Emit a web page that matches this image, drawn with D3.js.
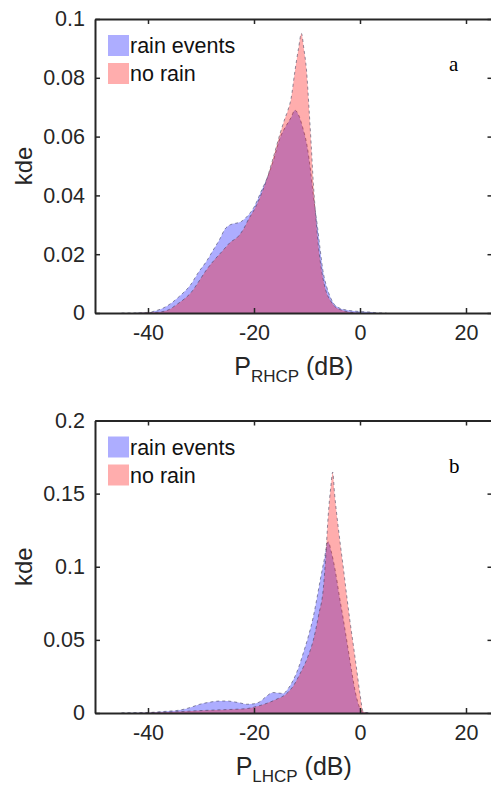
<!DOCTYPE html>
<html>
<head>
<meta charset="utf-8">
<script src="https://cdn.jsdelivr.net/npm/d3@7"></script>
<style>
  body { margin: 0; background: #fff; }
  svg { display: block; font-family: "Liberation Sans", Arial, sans-serif; }
</style>
</head>
<body>
<svg id="chart" width="491" height="785"></svg>
<script>
// ---- data ----
var seriesNames = ["rain events", "no rain"];
var xTicks = [-40, -20, 0, 20];

// panel a : P_RHCP
var aRainX = [-45, -40, -38.5, -37, -35.5, -34, -32, -30.5, -29, -27.7, -26.5, -25.5, -24.5, -23.5, -22.5, -21.5, -20, -18.5, -17.5, -16.5, -15, -14, -13, -12.3, -11.5, -10.8, -10, -9.3, -8.8, -8, -7.5, -7, -6.3, -5.5, -5, -4, -2.5, 0, 2, 3, 5];
var aRainY = [0, 0.0002, 0.0008, 0.0018, 0.0035, 0.0058, 0.0095, 0.0138, 0.0175, 0.0214, 0.025, 0.0285, 0.030, 0.0305, 0.031, 0.0325, 0.036, 0.042, 0.046, 0.051, 0.060, 0.0635, 0.0665, 0.069, 0.067, 0.063, 0.057, 0.048, 0.040, 0.029, 0.0214, 0.0145, 0.009, 0.005, 0.0033, 0.0018, 0.001, 0.0005, 0.0003, 0.0001, 0];
var aDryX = [-42, -38, -36, -34.5, -33, -32, -30.5, -29, -27.5, -26, -24.5, -23, -22, -21, -20, -18.5, -17.5, -16.5, -15, -14.2, -13.6, -13, -12.3, -11.6, -11.05, -10.6, -10.1, -9.6, -9.2, -8.8, -8.3, -7.9, -7.2, -6.5, -5.5, -4.8, -3.5, -2, 0];
var aDryY = [0, 0.0003, 0.0012, 0.003, 0.005, 0.0067, 0.0105, 0.0146, 0.018, 0.021, 0.024, 0.026, 0.0285, 0.032, 0.035, 0.041, 0.046, 0.052, 0.0615, 0.066, 0.069, 0.073, 0.082, 0.090, 0.0951, 0.090, 0.0827, 0.069, 0.057, 0.044, 0.032, 0.0237, 0.014, 0.008, 0.004, 0.0023, 0.001, 0.0003, 0];
var aYTicks = [0, 0.02, 0.04, 0.06, 0.08, 0.1];

// panel b : P_LHCP
var bRainX = [-45, -40, -38, -36, -34, -32, -30.2, -28.5, -26.4, -25, -23.9, -22.5, -21.4, -20, -18.9, -17.8, -16.4, -15.3, -14.5, -13.5, -12.6, -11.6, -10.7, -9.7, -8.8, -8.1, -7.5, -6.8, -6.0, -5.4, -4.7, -3.9, -3.1, -2.3, -1.6, -0.8, 0, 0.6, 2];
var bRainY = [0, 0.0003, 0.0008, 0.0013, 0.002, 0.0038, 0.006, 0.0073, 0.0082, 0.0082, 0.0077, 0.0068, 0.006, 0.0063, 0.0077, 0.011, 0.014, 0.0136, 0.0134, 0.017, 0.0225, 0.031, 0.041, 0.053, 0.066, 0.079, 0.091, 0.104, 0.117, 0.110, 0.098, 0.080, 0.063, 0.045, 0.029, 0.013, 0.003, 0.0005, 0];
var bDryX = [-45, -40, -35, -31, -27.7, -24, -21.4, -19.5, -17.6, -15.7, -13.8, -12.5, -11.3, -10, -8.8, -7.8, -6.9, -6.5, -6.0, -5.5, -5.15, -4.8, -4.3, -3.7, -3.1, -2.5, -1.9, -1.2, -0.6, 0, 0.6, 1.5];
var bDryY = [0, 0.0002, 0.0008, 0.0015, 0.002, 0.0025, 0.003, 0.0045, 0.0066, 0.0095, 0.0134, 0.019, 0.027, 0.037, 0.050, 0.067, 0.086, 0.105, 0.135, 0.155, 0.1647, 0.150, 0.133, 0.115, 0.098, 0.080, 0.063, 0.045, 0.029, 0.013, 0.001, 0];
var bYTicks = [0, 0.05, 0.1, 0.15, 0.2];

var color = { "rain events": "#0000ff", "no rain": "#ff0000" };
var fillAlpha = 0.32;
var ink = "#262626";

var svg = d3.select("#chart"),
    left = 95, right = 492.5;

var xScale = d3.scaleLinear().domain([-50, 25]).range([left, right]);

var panels = [
  { id: "a", top: 19, bottom: 313, yMax: 0.1, yTicks: aYTicks, sub: "RHCP",
    series: [zip(aRainX, aRainY), zip(aDryX, aDryY)] },
  { id: "b", top: 420.5, bottom: 713, yMax: 0.2, yTicks: bYTicks, sub: "LHCP",
    series: [zip(bRainX, bRainY), zip(bDryX, bDryY)] }
];

panels.forEach(function(p, pi) {
  var yScale = d3.scaleLinear().domain([0, p.yMax]).range([p.bottom, p.top]);
  var g = svg.append("g").attr("class", "panel panel-" + p.id);

  g.append("clipPath").attr("id", "clip" + pi)
    .append("rect")
      .attr("x", left).attr("y", p.top)
      .attr("width", right - left).attr("height", p.bottom - p.top);

  var area = d3.area()
      .curve(d3.curveMonotoneX)
      .x(function(d) { return xScale(d.x); })
      .y0(yScale(0))
      .y1(function(d) { return yScale(d.y); });
  var line = d3.line()
      .curve(d3.curveMonotoneX)
      .x(function(d) { return xScale(d.x); })
      .y(function(d) { return yScale(d.y); });

  var plot = g.append("g").attr("clip-path", "url(#clip" + pi + ")");

  p.series.forEach(function(s, i) {
    var name = seriesNames[i];
    plot.append("path")
        .datum(s)
        .attr("d", area)
        .attr("fill", color[name])
        .attr("fill-opacity", fillAlpha);
    plot.append("path")
        .datum(s)
        .attr("d", line)
        .attr("fill", "none")
        .attr("stroke", "#3a3a5a")
        .attr("stroke-opacity", 0.55)
        .attr("stroke-width", 1)
        .attr("stroke-dasharray", "3,3");
  });

  // axes (MATLAB style, ticks inward, box on)
  var xAxis = d3.axisBottom(xScale).tickValues(xTicks).tickSize(-5).tickSizeOuter(0).tickPadding(12)
      .tickFormat(function(d) { return String(d); });   // plain hyphen like the original
  var xTop = d3.axisTop(xScale).tickValues(xTicks).tickSize(-5).tickSizeOuter(0).tickFormat("");
  var yAxis = d3.axisLeft(yScale).tickValues(p.yTicks).tickSize(-5).tickSizeOuter(0).tickPadding(10)
      .tickFormat(function(d) { return String(+d.toFixed(3)); });
  var yRight = d3.axisRight(yScale).tickValues(p.yTicks).tickSize(-5).tickSizeOuter(0).tickFormat("");

  var axes = [
    g.append("g").attr("transform", "translate(0," + p.bottom + ")").call(xAxis),
    g.append("g").attr("transform", "translate(0," + p.top + ")").call(xTop),
    g.append("g").attr("transform", "translate(" + left + ",0)").call(yAxis),
    g.append("g").attr("transform", "translate(" + right + ",0)").call(yRight)
  ];
  axes.forEach(function(ax) {
    ax.select(".domain").attr("stroke", ink).attr("stroke-width", 2);
    ax.selectAll(".tick line").attr("stroke", ink).attr("stroke-width", 1.5);
    ax.selectAll(".tick text").attr("fill", ink).style("font-size", "21.5px");
  });

  // y label
  g.append("text")
      .attr("transform", "translate(32," + ((p.top + p.bottom) / 2) + ") rotate(-90)")
      .attr("text-anchor", "middle")
      .attr("fill", ink)
      .style("font-size", "24px")
      .text("kde");

  // x label with subscript
  var xl = g.append("text")
      .attr("x", (left + right) / 2)
      .attr("y", p.bottom + 62)
      .attr("text-anchor", "middle")
      .attr("fill", ink)
      .style("font-size", "25px");
  xl.append("tspan").text("P");
  xl.append("tspan").attr("dy", 7).style("font-size", "17px").text(p.sub);
  xl.append("tspan").attr("dy", -7).text(" (dB)");

  // legend
  var lg = g.append("g").attr("transform", "translate(108," + (p.top + 16) + ")");
  seriesNames.forEach(function(name, i) {
    lg.append("rect")
        .attr("x", 0).attr("y", i * 28)
        .attr("width", 21).attr("height", 21)
        .attr("fill", color[name]).attr("fill-opacity", fillAlpha);
    lg.append("text")
        .attr("x", 22).attr("y", i * 28 + 18)
        .attr("fill", "#111")
        .style("font-size", "21.5px")
        .text(name);
  });

  // panel letter
  g.append("text")
      .attr("x", 449).attr("y", p.top + 52)
      .attr("fill", "#000")
      .style("font-family", "'Liberation Serif', 'Times New Roman', serif")
      .style("font-size", "21px")
      .text(p.id);
});

function zip(xs, ys) {
  return xs.map(function(x, i) { return {x: x, y: ys[i]}; });
}
</script>
</body>
</html>
